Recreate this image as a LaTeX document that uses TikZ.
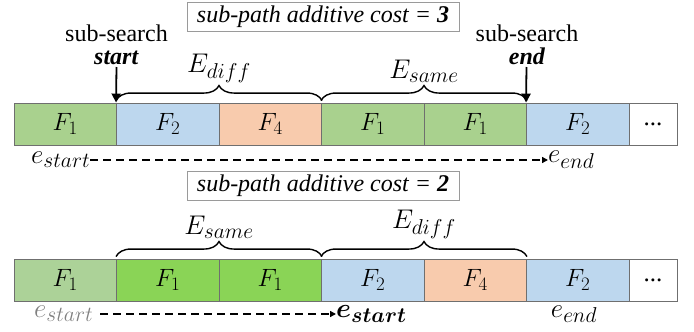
\RequirePackage{fix-cm}
\documentclass[tikz,border=0pt]{standalone}
\usepackage{fontspec}
\setmainfont{Liberation Serif}
\usepackage{bm}
\DeclareMathSizes{25}{25}{19}{14}
\DeclareMathSizes{27}{27}{21.5}{16}
\usetikzlibrary{arrows.meta,decorations.pathreplacing,calc}
\definecolor{cgreen}{HTML}{A9D18E}
\definecolor{cgreenl}{HTML}{ACD298}
\definecolor{cgreenb}{HTML}{8AD456}
\definecolor{cblue}{HTML}{BDD7EE}
\definecolor{corange}{HTML}{F8CBAD}
\definecolor{cborder}{HTML}{6F6F6F}
\definecolor{cgraytxt}{HTML}{808080}
\tikzset{
  cell/.style={draw=cborder, line width=0.9pt, minimum width=102.5pt, minimum height=42pt, inner sep=0pt, font=\fontsize{25}{28}\selectfont},
  lastcell/.style={cell, minimum width=48pt, fill=white},
  costbox/.style={draw=cborder!70, line width=0.8pt, minimum width=272pt, minimum height=29pt, inner sep=0pt, font=\fontsize{24}{28}\selectfont\itshape},
  txt/.style={font=\fontsize{24}{28}\selectfont, inner sep=0pt, anchor=base},
  elab/.style={font=\fontsize{27}{30}\selectfont, inner sep=0pt, anchor=south},
  elbl/.style={font=\fontsize{27}{30}\selectfont, inner sep=0pt},
  downarrow/.style={line width=1.8pt, -{Triangle[length=9pt,width=9pt]}},
  bracestyle/.style={line width=1.4pt, decorate, decoration={brace, amplitude=15pt, raise=2pt}},
  dasharrow/.style={line width=1.4pt, dash pattern=on 8pt off 5pt, -{Triangle[length=6pt,width=6pt]}},
}
\begin{document}
\begin{tikzpicture}[x=1pt,y=-1pt]
\useasboundingbox (0,0) rectangle (694,332);
% ---------- top ----------
\node[costbox] (cost1) at (323,16.5) {sub-path additive cost = \textbf{3}};
\node[cell, fill=cgreen]  (a1) at (65.25,124)  {$F_1$};
\node[cell, fill=cblue]   (a2) at (167.75,124) {$F_2$};
\node[cell, fill=corange] (a3) at (270.25,124) {$F_4$};
\node[cell, fill=cgreen]  (a4) at (372.75,124) {$F_1$};
\node[cell, fill=cgreen]  (a5) at (475.25,124) {$F_1$};
\node[cell, fill=cblue]   (a6) at (577.75,124) {$F_2$};
\node[lastcell]           (a7) at (653,124)    {...};

\node[txt] (ss1) at (116.5,41) {sub-search};
\node[txt] (ss2) at (116.5,64) {\textbf{\textit{start}}};
\node[txt] (se1) at (527,41) {sub-search};
\node[txt] (se2) at (527,64) {\textbf{\textit{end}}};
\coordinate (sarr) at (116.5,67);
\coordinate (earr) at (526.5,67);
\draw[downarrow] (sarr) -- (a2.north west);
\draw[downarrow] (earr) -- (a6.north west);

\draw[bracestyle] (a2.north west) -- (a3.north east);
\draw[bracestyle] (a4.north west) -- (a5.north east);
\node[elab] (ed1) at ($(a2.north west)!0.5!(a3.north east)+(0,-20)$) {$E_{diff}$};
\node[elab] (es1) at ($(a4.north west)!0.5!(a5.north east)+(0,-20)$) {$E_{same}$};

\node[elbl, anchor=west] (est1) at (31,160) {$e_{start}$};
\node[elbl, anchor=west] (een1) at (548,160) {$e_{end}$};
\draw[dasharrow] (est1.east) -- (een1.west);

% ---------- bottom ----------
\node[costbox] (cost2) at (323,186) {sub-path additive cost = \textbf{2}};
\node[cell, fill=cgreenl] (b1) at (65.25,280)  {$F_1$};
\node[cell, fill=cgreenb] (b2) at (167.75,280) {$F_1$};
\node[cell, fill=cgreenb] (b3) at (270.25,280) {$F_1$};
\node[cell, fill=cblue]   (b4) at (372.75,280) {$F_2$};
\node[cell, fill=corange] (b5) at (475.25,280) {$F_4$};
\node[cell, fill=cblue]   (b6) at (577.75,280) {$F_2$};
\node[lastcell]           (b7) at (653,280)    {...};

\draw[bracestyle] (b2.north west) -- (b3.north east);
\draw[bracestyle] (b4.north west) -- (b5.north east);
\node[elab] (es2) at ($(b2.north west)!0.5!(b3.north east)+(0,-20)$) {$E_{same}$};
\node[elab] (ed2) at ($(b4.north west)!0.5!(b5.north east)+(0,-20)$) {$E_{diff}$};

\node[elbl, anchor=west, text=cgraytxt] (est2) at (34,314) {$e_{start}$};
\node[elbl, anchor=west] (est3) at (336,314) {$\bm{e_{start}}$};
\node[elbl] (een2) at (574,314) {$e_{end}$};
\draw[dasharrow] ($(est2.east)+(7,0)$) -- (est3.west);
\end{tikzpicture}
\end{document}
